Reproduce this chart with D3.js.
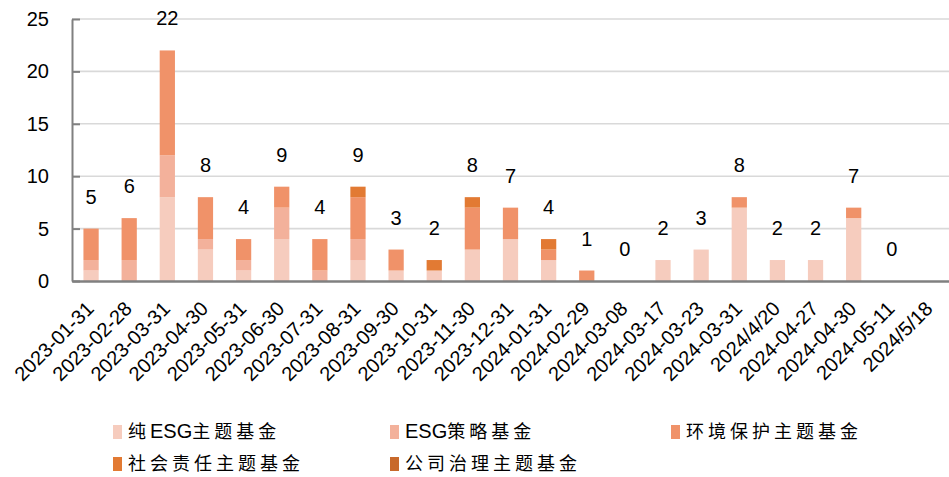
<!DOCTYPE html>
<html>
<head>
<meta charset="utf-8">
<script src="https://cdn.jsdelivr.net/npm/d3@7"></script>
<style>
  html, body { margin: 0; padding: 0; background: #fff; }
  svg { display: block; }
</style>
</head>
<body>
<svg id="chart" width="949" height="477"></svg>
<script>
// Fund launch dates
const categories = [
  "2023-01-31", "2023-02-28", "2023-03-31", "2023-04-30", "2023-05-31", "2023-06-30",
  "2023-07-31", "2023-08-31", "2023-09-30", "2023-10-31", "2023-11-30", "2023-12-31",
  "2024-01-31", "2024-02-29", "2024-03-08", "2024-03-17", "2024-03-23", "2024-03-31",
  "2024/4/20", "2024-04-27", "2024-04-30", "2024-05-11", "2024/5/18"
];

// Number of funds per type (null = no data for that date)
const pureESG     = [1, 0, 8, 3, 1, 4, 0, 2, 1, 1, 3, 4, 2, 0, 0, 2, 3, 7, 2, 2, 6, 0, null];
const esgStrategy = [1, 2, 4, 1, 1, 3, 1, 2, 0, 0, 0, 0, 0, 0, 0, 0, 0, 0, 0, 0, 0, 0, null];
const environment = [3, 4, 10, 4, 2, 2, 3, 4, 2, 0, 4, 3, 1, 1, 0, 0, 0, 1, 0, 0, 1, 0, null];
const social      = [0, 0, 0, 0, 0, 0, 0, 1, 0, 1, 1, 0, 1, 0, 0, 0, 0, 0, 0, 0, 0, 0, null];
const governance  = [0, 0, 0, 0, 0, 0, 0, 0, 0, 0, 0, 0, 0, 0, 0, 0, 0, 0, 0, 0, 0, 0, null];

const seriesNames  = ["纯ESG主题基金", "ESG策略基金", "环境保护主题基金", "社会责任主题基金", "公司治理主题基金"];
const seriesColors = ["#f6ccbe", "#f3b19b", "#f09269", "#e27a33", "#c8692b"];
const yTicks = [0, 5, 10, 15, 20, 25];

const seriesValues = [pureESG, esgStrategy, environment, social, governance];
const keys = seriesNames;
const rows = categories.map((c, i) => {
  const r = { category: c, empty: pureESG[i] === null };
  keys.forEach((k, j) => { r[k] = seriesValues[j][i] || 0; });
  return r;
});

const svg = d3.select("#chart");
const plotLeft = 72, plotRight = 949, plotTop = 19, plotBottom = 281;

const x = d3.scaleBand().domain(categories).range([plotLeft, plotRight])
  .paddingInner(0.6).paddingOuter(0.3);
const y = d3.scaleLinear().domain([0, 25]).range([plotBottom, plotTop]);

// Horizontal gridlines
svg.append("g").selectAll("line").data(yTicks.filter(d => d > 0)).join("line")
  .attr("x1", plotLeft).attr("x2", plotRight)
  .attr("y1", d => y(d)).attr("y2", d => y(d))
  .attr("stroke", "#d9d9d9").attr("stroke-width", 1.6);

// Stacked bars
const stacked = d3.stack().keys(keys)(rows);
svg.append("g").selectAll("g").data(stacked).join("g")
  .attr("fill", (d, i) => seriesColors[i])
  .selectAll("rect").data(d => d).join("rect")
  .attr("x", d => x(d.data.category))
  .attr("width", x.bandwidth())
  .attr("y", d => y(d[1]))
  .attr("height", d => y(d[0]) - y(d[1]));

// Y axis with inward ticks
const yAxis = svg.append("g").attr("transform", `translate(${plotLeft},0)`)
  .call(d3.axisLeft(y).tickValues(yTicks).tickSize(-8).tickPadding(23).tickSizeOuter(0));
yAxis.select(".domain").attr("stroke", "#808080").attr("stroke-width", 2);
yAxis.selectAll(".tick line").attr("stroke", "#808080").attr("stroke-width", 2);
yAxis.selectAll(".tick text")
  .attr("font-family", "'Liberation Sans', Arial, sans-serif")
  .attr("font-size", 20).attr("fill", "#000");

// X axis with rotated date labels
const xAxis = svg.append("g").attr("transform", `translate(0,${plotBottom})`)
  .call(d3.axisBottom(x).tickSize(0).tickSizeOuter(0));
xAxis.select(".domain").attr("stroke", "#808080").attr("stroke-width", 2.5);
xAxis.selectAll(".tick text")
  .attr("font-family", "'Liberation Sans', Arial, sans-serif")
  .attr("font-size", 20).attr("fill", "#000")
  .attr("text-anchor", "end")
  .attr("x", 0).attr("y", 0).attr("dy", 0)
  .attr("transform", "translate(4,29) rotate(-45)");

// Totals above each bar
svg.append("g").selectAll("text").data(rows.filter(r => !r.empty)).join("text")
  .attr("x", d => x(d.category) + x.bandwidth() / 2)
  .attr("y", d => y(d3.sum(keys, k => d[k])) - 25)
  .attr("text-anchor", "middle")
  .attr("font-family", "'Liberation Sans', Arial, sans-serif")
  .attr("font-size", 20).attr("fill", "#000")
  .text(d => d3.sum(keys, k => d[k]));

// Legend
const legendCols = [113, 390, 671];
const legendRows = [432, 464];
const legend = svg.append("g").selectAll("g").data(seriesNames).join("g")
  .attr("transform", (d, i) => `translate(${legendCols[i % 3]},${legendRows[Math.floor(i / 3)]})`);
legend.append("rect")
  .attr("x", 0).attr("y", -7).attr("width", 9).attr("height", 14)
  .attr("fill", (d, i) => seriesColors[i]);
const lt = legend.append("text")
  .attr("x", 15).attr("y", 0).attr("dy", "0.36em")
  .attr("fill", "#000");
lt.each(function(name) {
  const t = d3.select(this);
  const parts = name.match(/[A-Za-z]+|[^A-Za-z]+/g);
  parts.forEach(p => {
    const latin = /^[A-Za-z]+$/.test(p);
    t.append("tspan")
      .attr("font-family", latin ? "'Liberation Sans', Arial, sans-serif" : "'Noto Sans CJK SC', sans-serif")
      .attr("font-size", latin ? 20 : 18)
      .attr("letter-spacing", latin ? 0 : 4)
      .text(p);
  });
});
</script>
</body>
</html>
